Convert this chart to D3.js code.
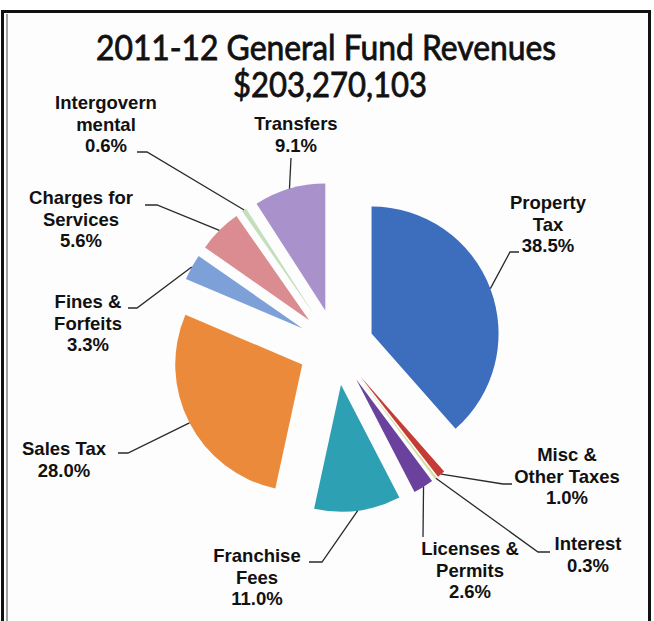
<!DOCTYPE html>
<html>
<head>
<meta charset="utf-8">
<script src="https://cdn.jsdelivr.net/npm/d3@7"></script>
<style>
  html, body { margin: 0; padding: 0; background: #ffffff; }
  svg { display: block; }
</style>
</head>
<body>
<svg id="chart" width="654" height="621"></svg>
<script>
// ---- data ----
const titleText = "2011-12 General Fund Revenues";
const totalText = "$203,270,103";

const categories = [
  "Property Tax", "Misc & Other Taxes", "Interest", "Licenses & Permits",
  "Franchise Fees", "Sales Tax", "Fines & Forfeits", "Charges for Services",
  "Intergovernmental", "Transfers"
];
// how each category name is broken over lines in its label
const labelLines = [
  ["Property", "Tax"], ["Misc &", "Other Taxes"], ["Interest"], ["Licenses &", "Permits"],
  ["Franchise", "Fees"], ["Sales Tax"], ["Fines &", "Forfeits"], ["Charges for", "Services"],
  ["Intergovern", "mental"], ["Transfers"]
];
const shares = [38.5, 1.0, 0.3, 2.6, 11.0, 28.0, 3.3, 5.6, 0.6, 9.1];

// ---- styling / layout ----
const sliceColors = [
  "#3d6ebe", "#c53a36", "#d3dea0", "#6a429e", "#2fa0b4",
  "#eb8a3a", "#7ea0d8", "#da8c90", "#c3dfbd", "#a991cc"
];
const center = [336, 347];
const radius = 127;
const explode = 38;
const lineHeight = 21.5;
// label block: centre x, first baseline
const labelAnchors = [
  [548, 209], [567, 461], [588, 550], [470, 555], [257, 562],
  [64, 455], [88, 308], [81, 204], [106, 109], [296, 130]
];
// leader bends after leaving the slice's outer arc
const leaderBends = [
  [[510, 252], [519, 252]],
  [[503, 484], [512, 484]],
  [[538, 552], [550, 552]],
  [[423, 537]],
  [[322, 562], [309, 562]],
  [[128, 453], [118, 453]],
  [[137, 308], [128, 308]],
  [[157, 205], [145, 205]],
  [[147, 152], [137, 152]],
  [[291, 158]]
];

const svg = d3.select("#chart");

// chart frame
svg.append("rect")
  .attr("x", 0).attr("y", 0).attr("width", 654).attr("height", 621)
  .attr("fill", "#ffffff");
svg.append("rect")
  .attr("x", 2.5).attr("y", 11.5).attr("width", 647).attr("height", 640)
  .attr("fill", "#fdfdfd").attr("stroke", "#111").attr("stroke-width", 3);
svg.append("line")
  .attr("x1", 7).attr("x2", 7).attr("y1", 14).attr("y2", 621)
  .attr("stroke", "#444").attr("stroke-width", 1);

// title (regular face with a light outline for a semi-bold look)
const titleFont = "Lato, 'Open Sans', sans-serif";
[[titleText, 326, 60, 460], [totalText, 330, 97, 194]].forEach(([t, x, y, w]) => {
  svg.append("text")
    .attr("x", x).attr("y", y)
    .attr("text-anchor", "middle")
    .attr("font-family", titleFont).attr("font-size", 34)
    .attr("fill", "#111").attr("stroke", "#111").attr("stroke-width", 0.8)
    .attr("textLength", w).attr("lengthAdjust", "spacingAndGlyphs")
    .text(t);
});

// pie
const pie = d3.pie().sort(null).value(d => d.value);
const arcs = pie(categories.map((c, i) => ({ name: c, value: shares[i], i })));
const arc = d3.arc().innerRadius(0).outerRadius(radius);

const mid = a => (a.startAngle + a.endAngle) / 2;
const offset = (a, r) => [Math.sin(mid(a)) * r, -Math.cos(mid(a)) * r];

const defs = svg.append("defs");
defs.append("filter").attr("id", "soft")
  .attr("x", "-10%").attr("y", "-10%").attr("width", "120%").attr("height", "120%")
  .append("feGaussianBlur").attr("stdDeviation", 0.6);

const pieG = svg.append("g").attr("transform", `translate(${center[0]},${center[1]})`);
pieG.selectAll("path.slice")
  .data(arcs)
  .join("path")
  .attr("class", "slice")
  .attr("transform", d => { const o = offset(d, explode); return `translate(${o[0]},${o[1]})`; })
  .attr("d", arc)
  .attr("fill", d => sliceColors[d.data.i])
  .attr("filter", "url(#soft)");

// leader lines from the middle of each outer arc
const line = d3.line();
svg.append("g").selectAll("path.leader")
  .data(arcs)
  .join("path")
  .attr("class", "leader")
  .attr("d", d => {
    const o = offset(d, explode + radius);
    const start = [center[0] + o[0], center[1] + o[1]];
    return line([start, ...leaderBends[d.data.i]]);
  })
  .attr("fill", "none")
  .attr("stroke", "#2a2a2a")
  .attr("stroke-width", 1.3);

// data labels
const fmt = d3.format(".1f");
const labels = svg.append("g")
  .attr("font-family", "'Liberation Sans', Arial, sans-serif")
  .attr("font-weight", "bold")
  .attr("font-size", 18.5)
  .attr("fill", "#111")
  .attr("text-anchor", "middle");
labels.selectAll("text")
  .data(arcs)
  .join("text")
  .attr("x", d => labelAnchors[d.data.i][0])
  .attr("y", d => labelAnchors[d.data.i][1])
  .each(function (d) {
    const lines = [...labelLines[d.data.i], fmt(d.data.value) + "%"];
    const x = labelAnchors[d.data.i][0];
    d3.select(this).selectAll("tspan")
      .data(lines)
      .join("tspan")
      .attr("x", x)
      .attr("dy", (t, k) => k === 0 ? 0 : lineHeight)
      .text(t => t);
  });
</script>
</body>
</html>
